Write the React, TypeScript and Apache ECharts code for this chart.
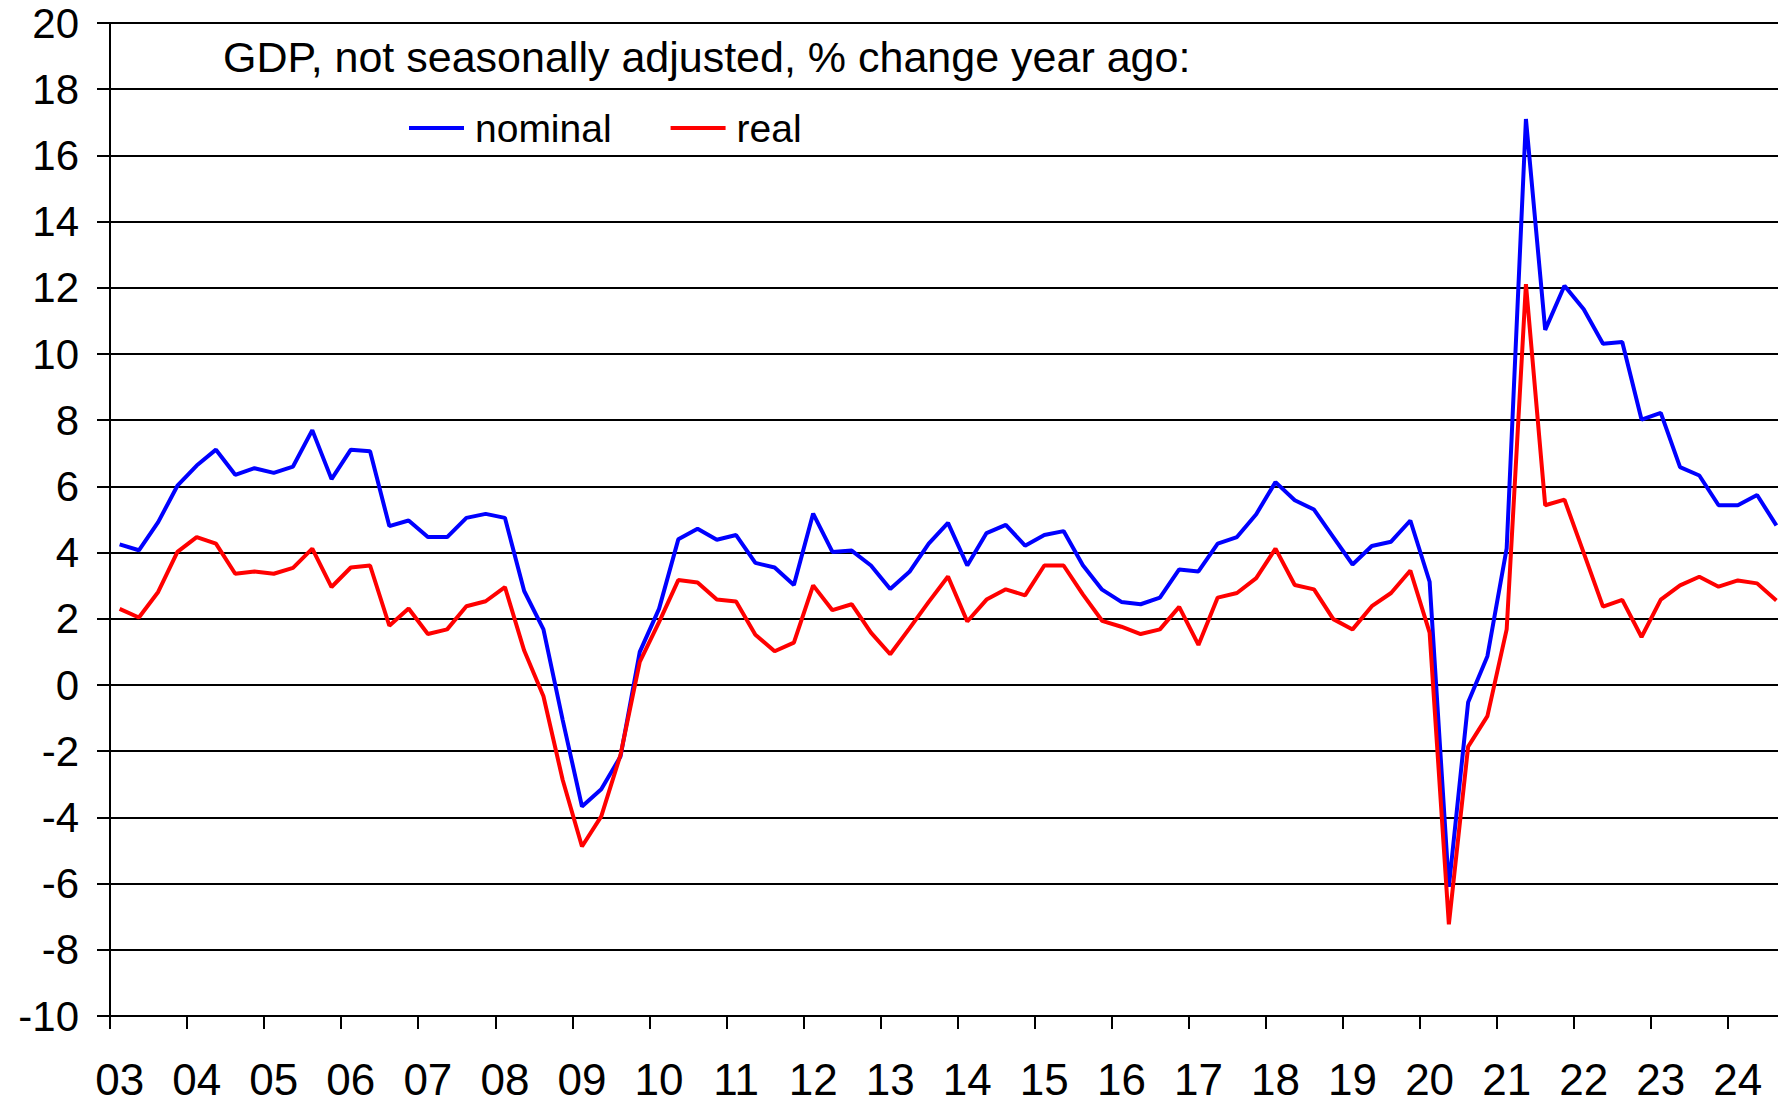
import React, { useEffect, useRef } from "react";
import * as echarts from "echarts";

const yearLabels = ["03","04","05","06","07","08","09","10","11","12","13","14","15","16","17","18","19","20","21","22","23","24"];
const quarterLabels = ["Q1","Q2","Q3","Q4"];

const nominal = [
  4.25, 4.07, 4.92, 6.02,
  6.63, 7.11, 6.35, 6.55,
  6.41, 6.60, 7.70, 6.22,
  7.11, 7.06, 4.80, 4.97,
  4.47, 4.47, 5.05, 5.17,
  5.05, 2.84, 1.68, -1.06,
  -3.67, -3.15, -2.16, 1.00,
  2.30, 4.40, 4.72, 4.39,
  4.53, 3.69, 3.55, 3.02,
  5.18, 4.02, 4.06, 3.61,
  2.90, 3.42, 4.27, 4.90,
  3.61, 4.59, 4.84, 4.21,
  4.53, 4.65, 3.62, 2.88,
  2.51, 2.44, 2.64, 3.49,
  3.43, 4.27, 4.47, 5.16,
  6.13, 5.58, 5.30, 4.47,
  3.64, 4.20, 4.33, 4.97,
  3.12, -6.10, -0.52, 0.87,
  4.13, 17.10, 10.73, 12.06,
  11.35, 10.31, 10.36, 8.02,
  8.22, 6.58, 6.33, 5.43,
  5.43, 5.74, 4.82,
];

const real = [
  2.30, 2.04, 2.81, 4.02,
  4.47, 4.27, 3.36, 3.43,
  3.36, 3.54, 4.12, 2.96,
  3.55, 3.61, 1.79, 2.31,
  1.54, 1.68, 2.38, 2.53,
  2.96, 1.04, -0.34, -2.87,
  -4.88, -3.97, -2.11, 0.70,
  1.90, 3.17, 3.10, 2.58,
  2.52, 1.52, 1.02, 1.28,
  3.01, 2.26, 2.44, 1.58,
  0.93, 1.71, 2.51, 3.28,
  1.92, 2.58, 2.89, 2.71,
  3.61, 3.61, 2.74, 1.94,
  1.76, 1.54, 1.68, 2.36,
  1.21, 2.64, 2.78, 3.23,
  4.12, 3.02, 2.89, 1.99,
  1.68, 2.38, 2.78, 3.46,
  1.58, -7.23, -1.86, -0.94,
  1.68, 12.11, 5.43, 5.60,
  3.99, 2.37, 2.57, 1.45,
  2.58, 3.01, 3.27, 2.97,
  3.16, 3.07, 2.55,
];

const yMin = -10;
const yMax = 20;
const yStep = 2;
const titleText = "GDP, not seasonally adjusted, % change year ago:";
const seriesNames = ["nominal", "real"];

const categories: string[] = yearLabels
  .flatMap((y) => quarterLabels.map((q) => `${y} ${q}`))
  .slice(0, nominal.length);

const FONT = "'Liberation Sans', Arial, sans-serif";

export default function App() {
  const ref = useRef<HTMLDivElement>(null);
  useEffect(() => {
    if (!ref.current) return;
    const chart = echarts.init(ref.current, undefined, { renderer: "svg" });
    const yearStart = (index: number) => index % 4 === 0;
    const black = { color: "#000", width: 2 };
    chart.setOption({
      animation: false,
      backgroundColor: "#ffffff",
      title: {
        text: titleText,
        left: 223,
        top: 36,
        padding: 0,
        textStyle: { fontSize: 43, fontWeight: "normal", color: "#000", fontFamily: FONT, lineHeight: 42 },
      },
      legend: {
        data: seriesNames,
        left: 409,
        top: 108,
        padding: 0,
        icon: "rect",
        itemWidth: 55,
        itemHeight: 4,
        itemGap: 59,
        textStyle: { fontSize: 39, color: "#000", fontFamily: FONT, lineHeight: 40, padding: [0, 0, 0, 6] },
      },
      grid: { left: 110, top: 23, right: 14, bottom: 84, containLabel: false },
      xAxis: {
        type: "category",
        data: categories,
        boundaryGap: true,
        axisLine: { onZero: false, lineStyle: black },
        axisTick: { show: true, interval: yearStart, length: 13, lineStyle: black },
        axisLabel: {
          interval: yearStart,
          formatter: (v: string) => v.split(" ")[0],
          fontSize: 44,
          lineHeight: 40,
          color: "#000",
          fontFamily: FONT,
          margin: 43,
        },
        splitLine: { show: false },
      },
      yAxis: {
        type: "value",
        min: yMin,
        max: yMax,
        interval: yStep,
        axisLine: { show: true, lineStyle: black },
        axisTick: { show: true, length: 13, lineStyle: black },
        axisLabel: { fontSize: 42, color: "#000", fontFamily: FONT, margin: 31 },
        splitLine: { show: true, lineStyle: black },
      },
      series: [
        {
          name: seriesNames[0],
          type: "line",
          data: nominal,
          symbol: "none",
          showSymbol: false,
          lineStyle: { color: "#0000ff", width: 4 },
          itemStyle: { color: "#0000ff" },
        },
        {
          name: seriesNames[1],
          type: "line",
          data: real,
          symbol: "none",
          showSymbol: false,
          lineStyle: { color: "#ff0000", width: 4 },
          itemStyle: { color: "#ff0000" },
        },
      ],
    });
    return () => chart.dispose();
  }, []);
  return (
    <div style={{ position: "fixed", left: 0, top: 0, width: 1778, height: 1101, overflow: "hidden", background: "#fff" }}>
      <div ref={ref} style={{ width: 1800, height: 1101 }} />
    </div>
  );
}
